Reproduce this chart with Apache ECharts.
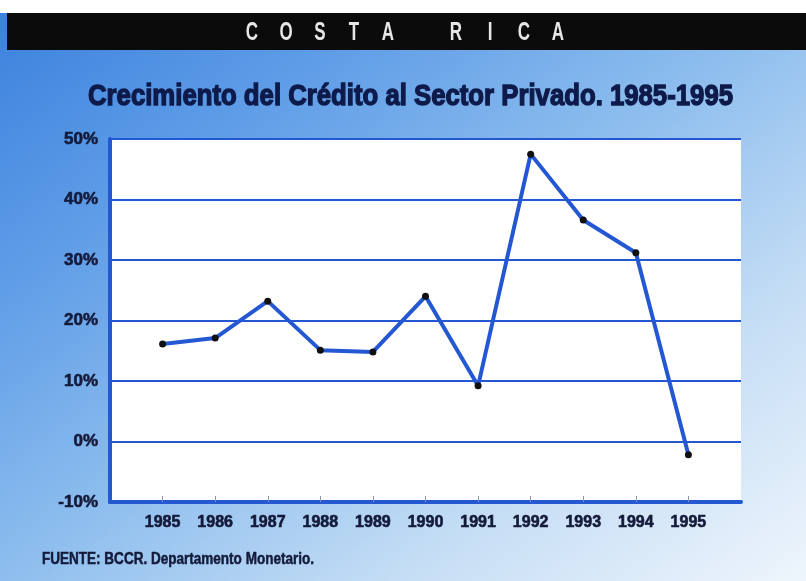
<!DOCTYPE html>
<html>
<head>
<meta charset="utf-8">
<script src="https://cdn.jsdelivr.net/npm/echarts@6/dist/echarts.min.js"></script>
<style>
  html, body { margin: 0; padding: 0; background: #ffffff; }
  #chart {
    width: 806px; height: 581px;
    background:
      linear-gradient(to bottom, #ffffff 0px, #ffffff 13px, transparent 13px),
      linear-gradient(to bottom right, #3a80dd 0%, #5f9de7 25%, #8ebeee 50%, #c6def5 75%, #eef5fc 100%);
  }
</style>
</head>
<body>
<div id="chart"></div>
<script>
// Crecimiento del crédito al sector privado, Costa Rica (variación anual, %)
const years = [1985, 1986, 1987, 1988, 1989, 1990, 1991, 1992, 1993, 1994, 1995];
const creditGrowth = [16.1, 17.1, 23.2, 15.1, 14.8, 24.0, 9.2, 47.5, 36.6, 31.2, -2.2];
const yTicks = [-10, 0, 10, 20, 30, 40, 50];

const bannerText = 'COSTA RICA';
const chartTitle = 'Crecimiento del Crédito al Sector Privado. 1985-1995';
const sourceNote = 'FUENTE: BCCR. Departamento Monetario.';

const FONT = '"Liberation Sans", Arial, sans-serif';
const INK = '#141a3a';
const TITLE_INK = '#0d1a4a';
const BLUE = '#2457d2';

// horizontal squeeze so a regular bold face fits a given width (condensed look)
const measureCtx = document.createElement('canvas').getContext('2d');
function squeeze(text, font, targetWidth) {
  measureCtx.font = font;
  return targetWidth / measureCtx.measureText(text).width;
}

const titleFont = 'bold 30px ' + FONT;
const noteFont = 'bold 16px ' + FONT;
const bannerFont = 'bold 25px ' + FONT;

// spaced-out letters of the banner
const bannerLetters = [];
bannerText.split('').forEach((ch, i) => {
  if (ch === ' ') return;
  bannerLetters.push({
    type: 'text',
    x: 252 + i * 34,
    y: 33,
    scaleX: 0.68,
    style: {
      text: ch, fill: '#e6e6e6', font: bannerFont,
      textAlign: 'center', textVerticalAlign: 'middle'
    }
  });
});

const chart = echarts.init(document.getElementById('chart'), null, { renderer: 'canvas' });
chart.setOption({
  backgroundColor: 'transparent',
  animation: false,
  graphic: [
    { type: 'rect', shape: { x: 7, y: 13, width: 799, height: 37 }, style: { fill: '#0b0b0b' }, z: 0 },
    ...bannerLetters,
    {
      type: 'text', x: 88, y: 97,
      scaleX: squeeze(chartTitle, titleFont, 645),
      style: {
        text: chartTitle, fill: TITLE_INK, font: titleFont,
        stroke: TITLE_INK, lineWidth: 1.4,
        textVerticalAlign: 'middle'
      }
    },
    {
      type: 'text', x: 42, y: 560,
      scaleX: squeeze(sourceNote, noteFont, 272),
      style: {
        text: sourceNote, fill: INK, font: noteFont,
        stroke: INK, lineWidth: 0.5,
        textVerticalAlign: 'middle'
      }
    }
  ],
  grid: {
    left: 110, right: 65, top: 139, bottom: 79,
    show: true, backgroundColor: '#ffffff', borderWidth: 0
  },
  xAxis: {
    type: 'value',
    min: 1984, max: 1996, interval: 1,
    axisLine: { show: true, onZero: false, lineStyle: { color: BLUE, width: 4 } },
    axisTick: {
      show: true, inside: true, length: 6, customValues: years,
      lineStyle: { color: '#8a93b0', width: 1 }
    },
    axisLabel: {
      customValues: years,
      formatter: v => String(v),
      margin: 13,
      fontFamily: FONT, fontWeight: 'bold', fontSize: 16, color: INK,
      textBorderColor: INK, textBorderWidth: 0.6
    },
    splitLine: { show: false }
  },
  yAxis: {
    type: 'value',
    min: yTicks[0], max: yTicks[yTicks.length - 1], interval: 10,
    axisLine: { show: true, lineStyle: { color: BLUE, width: 4 } },
    axisTick: { show: false },
    axisLabel: {
      formatter: '{value}%',
      margin: 12,
      fontFamily: FONT, fontWeight: 'bold', fontSize: 17, color: INK,
      textBorderColor: INK, textBorderWidth: 0.6
    },
    splitLine: { show: true, lineStyle: { color: BLUE, width: 2 } }
  },
  series: [{
    type: 'line',
    data: years.map((y, i) => [y, creditGrowth[i]]),
    lineStyle: { color: BLUE, width: 4 },
    symbol: 'circle',
    symbolSize: 7,
    itemStyle: { color: '#101010' },
    z: 5
  }]
});
</script>
</body>
</html>
